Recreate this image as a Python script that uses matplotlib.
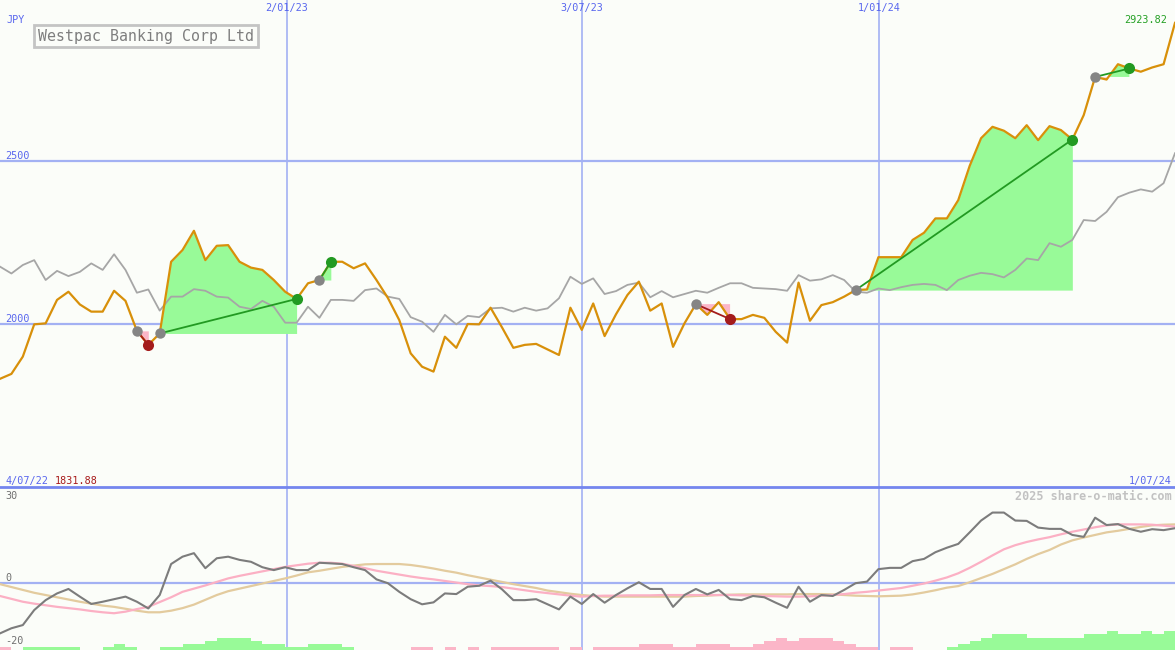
import numpy as np
import matplotlib
matplotlib.use("Agg")
import matplotlib.pyplot as plt

# Weekly closes (JPY), 4/07/22 .. 1/07/24
price = [1831.88, 1847, 1900, 1999, 2002, 2074, 2099, 2060, 2038, 2038,
         2102, 2071, 1979, 1936, 1971, 2191, 2227, 2286, 2196, 2240,
         2242, 2191, 2173, 2166, 2135, 2099, 2077, 2125, 2135, 2191,
         2191, 2171, 2186, 2135, 2080, 2012, 1910, 1869, 1854, 1961,
         1927, 2000, 1999, 2050, 1990, 1927, 1936, 1939, 1922, 1905,
         2050, 1982, 2063, 1963, 2030, 2089, 2130, 2041, 2063, 1930,
         2002, 2061, 2028, 2067, 2015, 2015, 2028, 2019, 1976, 1943,
         2127, 2010, 2058, 2067, 2084, 2104, 2106, 2205, 2205, 2205,
         2258, 2280, 2324, 2324, 2380, 2485, 2570, 2605, 2593, 2570,
         2610, 2564, 2607, 2595, 2566, 2641, 2758, 2750, 2797, 2784,
         2774, 2787, 2797, 2923.82]

# Comparison index, rebased to JPY
index_line = [2176, 2155, 2181, 2196, 2135, 2163, 2147, 2160, 2186, 2166,
              2214, 2166, 2096, 2106, 2041, 2084, 2084, 2107, 2102, 2084,
              2081, 2053, 2046, 2071, 2053, 2004, 2004, 2053, 2019, 2074,
              2074, 2071, 2104, 2109, 2084, 2077, 2021, 2007, 1976, 2028,
              1999, 2025, 2021, 2048, 2050, 2038, 2050, 2041, 2048, 2079,
              2145, 2123, 2140, 2092, 2101, 2120, 2127, 2082, 2101, 2082,
              2092, 2102, 2096, 2111, 2125, 2125, 2111, 2109, 2107, 2102,
              2150, 2133, 2137, 2150, 2135, 2099, 2096, 2109, 2104, 2113,
              2120, 2123, 2120, 2104, 2135, 2148, 2157, 2153, 2143, 2166,
              2201, 2196, 2248, 2237, 2258, 2319, 2316, 2344, 2389, 2403,
              2413, 2406, 2432, 2524]

# Lower panel
momentum = [-15.8, -14.2, -13.2, -8.5, -5.4, -3.3, -1.9, -4.3, -6.6, -5.9,
            -5.1, -4.3, -5.9, -8.0, -3.8, 5.9, 8.2, 9.3, 4.6, 7.7,
            8.2, 7.2, 6.6, 4.9, 4.0, 4.9, 4.0, 4.0, 6.3, 6.1,
            5.9, 4.9, 4.0, 1.1, -0.1, -2.8, -5.1, -6.7, -6.1, -3.3,
            -3.5, -1.2, -0.9, 0.7, -2.0, -5.4, -5.4, -5.1, -6.7, -8.3,
            -4.3, -6.6, -3.5, -6.2, -3.8, -1.7, 0.2, -1.9, -1.9, -7.5,
            -3.8, -1.9, -3.6, -2.2, -5.1, -5.4, -4.1, -4.5, -6.2, -7.8,
            -1.2, -5.9, -3.8, -4.1, -2.2, -0.1, 0.4, 4.3, 4.7, 4.7,
            6.8, 7.5, 9.6, 11.0, 12.2, 15.8, 19.5, 22.0, 22.0, 19.5,
            19.4, 17.3, 16.9, 16.9, 15.0, 14.4, 20.4, 18.1, 18.4, 16.9,
            16.0, 16.8, 16.5, 17.1]

fast_avg = [-4.1, -5.0, -5.9, -6.5, -7.0, -7.5, -7.9, -8.3, -8.8, -9.2,
            -9.5, -9.0, -8.2, -7.5, -6.0, -4.5, -2.8, -1.8, -0.8, 0.3,
            1.4, 2.2, 2.9, 3.6, 4.3, 5.0, 5.5, 6.0, 6.3, 6.3,
            6.0, 5.3, 4.6, 3.8, 3.2, 2.6, 2.0, 1.5, 1.1, 0.6,
            0.1, -0.4, -0.8, -1.0, -1.3, -1.8, -2.3, -2.8, -3.2, -3.6,
            -4.0, -4.3, -4.1, -4.0, -4.0, -3.9, -3.9, -3.9, -3.8, -3.8,
            -3.8, -3.8, -3.8, -3.8, -3.8, -3.9, -4.0, -4.1, -4.2, -4.3,
            -4.3, -4.2, -4.0, -3.8, -3.5, -3.1, -2.8, -2.4, -2.0, -1.6,
            -0.9, -0.2, 0.7, 1.7, 3.0, 4.7, 6.6, 8.6, 10.5, 11.8,
            12.8, 13.6, 14.3, 15.2, 16.0, 16.7, 17.4, 18.0, 18.3, 18.3,
            18.3, 18.2, 17.9, 17.6]

slow_avg = [-0.4, -1.3, -2.2, -3.1, -3.8, -4.5, -5.2, -5.9, -6.5, -7.1,
            -7.5, -8.1, -8.7, -9.2, -9.2, -8.7, -7.9, -6.8, -5.3, -3.8,
            -2.6, -1.8, -1.0, -0.2, 0.6, 1.4, 2.3, 3.3, 3.8, 4.4,
            5.0, 5.4, 5.8, 5.9, 5.9, 5.9, 5.6, 5.1, 4.5, 3.8,
            3.2, 2.4, 1.7, 1.0, 0.3, -0.4, -1.0, -1.6, -2.4, -2.9,
            -3.4, -3.8, -4.1, -4.3, -4.3, -4.3, -4.3, -4.3, -4.3, -4.3,
            -4.3, -4.1, -4.0, -3.8, -3.7, -3.6, -3.6, -3.6, -3.6, -3.6,
            -3.5, -3.5, -3.5, -3.6, -3.8, -4.0, -4.1, -4.2, -4.1, -4.0,
            -3.6, -3.0, -2.3, -1.5, -1.0, 0.2, 1.5, 2.8, 4.3, 5.8,
            7.5, 9.0, 10.3, 12.0, 13.3, 14.2, 15.0, 15.8, 16.3, 16.9,
            17.5, 18.0, 18.2, 18.3]

strength = [-1, 0, 1, 1, 1, 1, 1, 0, 0, 1,
            2, 1, 0, 0, 1, 1, 2, 2, 3, 4,
            4, 4, 3, 2, 2, 1, 1, 2, 2, 2,
            1, 0, 0, 0, 0, 0, -1, -1, 0, -1,
            0, -1, 0, -1, -1, -1, -1, -1, -1, 0,
            -1, 0, -1, -1, -1, -1, -2, -2, -2, -1,
            -1, -2, -2, -2, -1, -1, -2, -3, -4, -3,
            -4, -4, -4, -3, -2, -1, -1, 0, -1, -1,
            0, 0, 0, 1, 2, 3, 4, 5, 5, 5,
            4, 4, 4, 4, 4, 5, 5, 6, 5, 5,
            6, 5, 6, 6]

# Trades: (entry week, exit week)
trades = [(12, 13), (14, 26), (28, 29), (61, 64), (75, 94), (96, 99)]

grid_labels = ['2/01/23', '3/07/23', '1/01/24']
grid_weeks = [25.16, 51.02, 77.05]

bg = '#fbfdf9'
grid_col = '#a3b1f3'
blue_txt = '#5866ee'
orange = '#d8900a'
green_fill = '#98fa98'
pink_fill = '#fbb6c8'
green_dot = '#229a22'
red_dot = '#a41c1c'

x = np.arange(len(price))
price = np.array(price)

fig = plt.figure(figsize=(11.75, 6.5), dpi=100)
fig.patch.set_facecolor(bg)
ax = fig.add_axes([0, 163 / 650, 1, 487 / 650])
ax2 = fig.add_axes([0, 0, 1, 163 / 650])

for a in (ax, ax2):
    a.set_facecolor(bg)
    a.set_xlim(0, len(price) - 1)
    a.set_xticks([])
    a.set_yticks([])
    for s in a.spines.values():
        s.set_visible(False)
    for g in grid_weeks:
        a.axvline(g, color=grid_col, lw=1.2, zorder=1)

# Main panel
ax.set_ylim(1500, 2994)
for lvl in (2000, 2500):
    ax.axhline(lvl, color=grid_col, lw=1.6, zorder=1)

for s, e in trades:
    xs = x[s:e + 1]
    ys = price[s:e + 1]
    lvl = price[s]
    ax.fill_between(xs, ys, lvl, where=ys >= lvl, interpolate=True,
                    color=green_fill, lw=0, zorder=2)
    ax.fill_between(xs, ys, lvl, where=ys < lvl, interpolate=True,
                    color=pink_fill, lw=0, zorder=2)

ax.plot(x, index_line, color='#a6a6a6', lw=1.3, zorder=3)
ax.plot(x, price, color=orange, lw=1.6, zorder=4)

for s, e in trades:
    win = price[e] > price[s]
    col = green_dot if win else red_dot
    ax.plot([x[s], x[e]], [price[s], price[e]], color=col, lw=1.3, zorder=5)
    ax.plot(x[s], price[s], 'o', color='#858585', ms=7.5, zorder=6, mec='none')
    ax.plot(x[e], price[e], 'o', color=col, ms=8, zorder=6, mec='none')

# Lower panel
ax2.set_ylim(-21, 30)
ax2.axhline(0, color=grid_col, lw=1.6, zorder=1)
ax2.spines['top'].set_visible(True)
ax2.spines['top'].set_color('#7486ee')
ax2.spines['top'].set_linewidth(2)

strength = np.array(strength)
bar_cols = [green_fill if v > 0 else pink_fill for v in strength]
ax2.bar(x, np.abs(strength) * 0.97, bottom=-21, width=1, align='edge',
        color=bar_cols, lw=0, zorder=2)
ax2.plot(x, slow_avg, color='#e3cb9e', lw=1.6, zorder=3)
ax2.plot(x, fast_avg, color='#fbb0c4', lw=1.6, zorder=3)
ax2.plot(x, momentum, color='#7c7c7c', lw=1.5, zorder=4)

# Labels
mono = 'DejaVu Sans Mono'


def px_text(px, py, s, **kw):
    kw.setdefault('family', mono)
    kw.setdefault('fontsize', 7.3)
    fig.text(px / 1175, 1 - py / 650, s, **kw)


px_text(6, 20, 'JPY', color=blue_txt, va='center')
px_text(38, 36, 'Westpac Banking Corp Ltd', color='#7e7e7e', fontsize=10.7,
        va='center',
        bbox=dict(boxstyle='square,pad=0.25', fc=bg, ec='#c4c4c4', lw=2))
for lab, g in zip(grid_labels, grid_weeks):
    px_text(g / (len(price) - 1) * 1175, 8, lab, color=blue_txt,
            ha='center', va='center')
px_text(5, 156, '2500', color=blue_txt, va='center')
px_text(5, 319, '2000', color=blue_txt, va='center')
px_text(1167, 20, f'{price[-1]:.2f}', color='#24a024', ha='right', va='center')
px_text(6, 481, '4/07/22', color=blue_txt, va='center')
px_text(55, 481, f'{price[0]:.2f}', color='#a81c1c', va='center')
px_text(1172, 481, '1/07/24', color=blue_txt, ha='right', va='center')
px_text(1172, 496, '2025 share-o-matic.com', color='#c2c2c2', fontsize=8.5,
        ha='right', va='center', weight='bold')
px_text(5, 496, '30', color='#707070', va='center')
px_text(5, 578, '0', color='#707070', va='center')
px_text(5, 641, '-20', color='#707070', va='center')

fig.savefig('out.png', dpi=100, facecolor=bg)
